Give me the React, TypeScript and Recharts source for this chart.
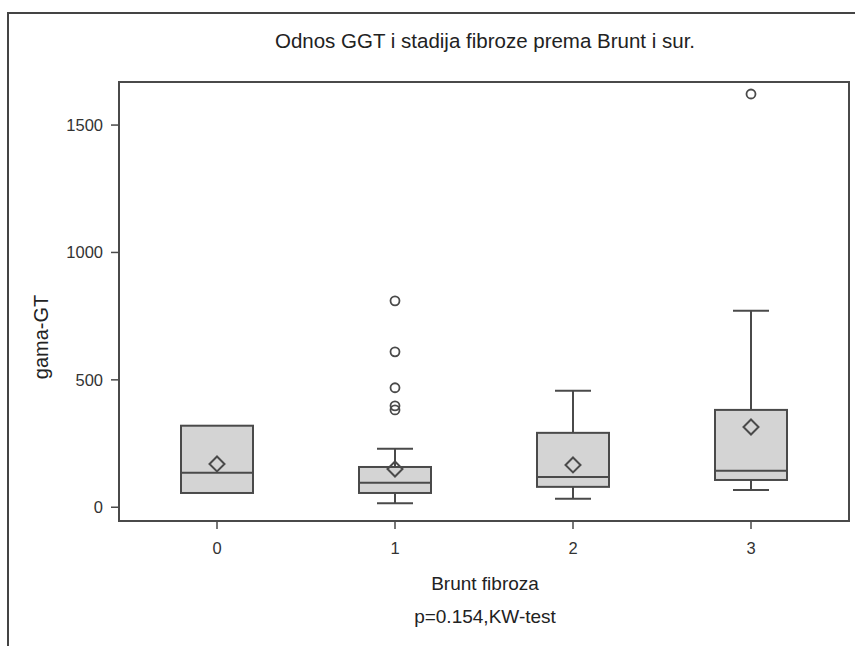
import { ComposedChart, Bar, Scatter, XAxis, YAxis } from 'recharts'

const categories = ['0', '1', '2', '3']
const whiskerLow = [56, 16, 33, 68]
const q1 = [56, 56, 80, 107]
const median = [135, 96, 119, 143]
const q3 = [320, 158, 292, 382]
const whiskerHigh = [320, 230, 457, 771]
const means = [170, 150, 166, 315]
const outliers = [[], [382, 398, 469, 610, 810], [], [1622]]
const yTicks = [0, 500, 1000, 1500]

const maxOut = Math.max(...outliers.map((o) => o.length))
const outlierKeys = Array.from({ length: maxOut }, (_, k) => `o${k}`)

const data = categories.map((cat, i) => {
  const row: Record<string, any> = {
    cat,
    range: [whiskerLow[i], whiskerHigh[i]],
    q1: q1[i],
    median: median[i],
    q3: q3[i],
    mean: means[i],
  }
  outliers[i].forEach((v, k) => {
    row[`o${k}`] = v
  })
  return row
})

const INK = '#4a4a4a'
const FILL = '#d4d4d4'
const FONT = '"Liberation Sans", Arial, sans-serif'

// plot area in page pixels
const PLOT = { left: 119, top: 82, right: 849, bottom: 521 }

const BoxShape = (props: any) => {
  const { x, y, width, height, payload } = props
  const [lo, hi] = payload.range
  const top = Math.min(y, y + height)
  const h = Math.abs(height)
  const py = (v: number) => (hi === lo ? top : top + ((hi - v) / (hi - lo)) * h)
  const cx = x + width / 2
  const cap = width / 4
  return (
    <g stroke={INK} strokeWidth={2}>
      {hi > payload.q3 && (
        <>
          <line x1={cx} x2={cx} y1={py(hi)} y2={py(payload.q3)} />
          <line x1={cx - cap} x2={cx + cap} y1={py(hi)} y2={py(hi)} />
        </>
      )}
      {lo < payload.q1 && (
        <>
          <line x1={cx} x2={cx} y1={py(payload.q1)} y2={py(lo)} />
          <line x1={cx - cap} x2={cx + cap} y1={py(lo)} y2={py(lo)} />
        </>
      )}
      <rect
        x={x}
        y={py(payload.q3)}
        width={width}
        height={py(payload.q1) - py(payload.q3)}
        fill={FILL}
      />
      <line x1={x} x2={x + width} y1={py(payload.median)} y2={py(payload.median)} />
    </g>
  )
}

const Diamond = (props: any) => {
  const { cx, cy } = props
  if (cx == null || cy == null || isNaN(cy)) return <g />
  const r = 7.5
  return (
    <path
      d={`M${cx},${cy - r}L${cx + r},${cy}L${cx},${cy + r}L${cx - r},${cy}Z`}
      fill="none"
      stroke={INK}
      strokeWidth={2}
    />
  )
}

const Ring = (props: any) => {
  const { cx, cy, payload, dataKey } = props
  if (cx == null || cy == null || isNaN(cy) || payload?.[dataKey] == null) return <g />
  return <circle cx={cx} cy={cy} r={4.5} fill="none" stroke={INK} strokeWidth={1.8} />
}

export default function App() {
  return (
    <div
      style={{
        position: 'absolute',
        left: 0,
        top: 0,
        width: 855,
        height: 646,
        background: '#fff',
        fontFamily: FONT,
      }}
    >
      <div
        style={{
          position: 'absolute',
          left: 7,
          top: 12,
          width: 860,
          height: 650,
          borderLeft: '2px solid #444',
          borderTop: '2px solid #444',
        }}
      />
      <div style={{ position: 'absolute', left: 0, top: 0 }}>
        <ComposedChart
          width={855}
          height={646}
          data={data}
          margin={{ top: PLOT.top, right: 855 - PLOT.right, bottom: 95, left: 0 }}
        >
          <XAxis
            dataKey="cat"
            height={30}
            padding={{ left: 9, right: 9 }}
            axisLine={{ stroke: INK, strokeWidth: 2 }}
            tickLine={{ stroke: INK, strokeWidth: 1.5 }}
            tickSize={8}
            tickMargin={13}
            tick={{ fill: '#333', fontSize: 16.5, fontFamily: FONT }}
          />
          <YAxis
            width={PLOT.left}
            domain={[-54, 1669]}
            ticks={yTicks}
            allowDataOverflow
            axisLine={{ stroke: INK, strokeWidth: 2 }}
            tickLine={{ stroke: INK, strokeWidth: 1.5 }}
            tickSize={8}
            tickMargin={8}
            tick={{ fill: '#333', fontSize: 16.5, fontFamily: FONT }}
          />
          <Bar dataKey="range" barSize={72} shape={BoxShape} isAnimationActive={false} />
          <Scatter dataKey="mean" shape={Diamond} isAnimationActive={false} />
          {outlierKeys.map((k) => (
            <Scatter
              key={k}
              dataKey={k}
              shape={(p: any) => <Ring {...p} dataKey={k} />}
              isAnimationActive={false}
            />
          ))}
        </ComposedChart>
      </div>
      <svg
        width={855}
        height={646}
        style={{ position: 'absolute', left: 0, top: 0, pointerEvents: 'none' }}
        fontFamily={FONT}
      >
        <rect
          x={PLOT.left}
          y={PLOT.top}
          width={PLOT.right - PLOT.left}
          height={PLOT.bottom - PLOT.top}
          fill="none"
          stroke={INK}
          strokeWidth={2}
        />
        <text x={485} y={48} textAnchor="middle" fontSize={20.5} fill="#222">
          Odnos GGT i stadija fibroze prema Brunt i sur.
        </text>
        <text x={485} y={590} textAnchor="middle" fontSize={19} fill="#222">
          Brunt fibroza
        </text>
        <text x={485} y={623} textAnchor="middle" fontSize={19} fill="#222">
          p=0.154,KW-test
        </text>
        <text
          x={0}
          y={0}
          transform="translate(48,337) rotate(-90)"
          textAnchor="middle"
          fontSize={20}
          fill="#222"
        >
          gama-GT
        </text>
      </svg>
    </div>
  )
}
